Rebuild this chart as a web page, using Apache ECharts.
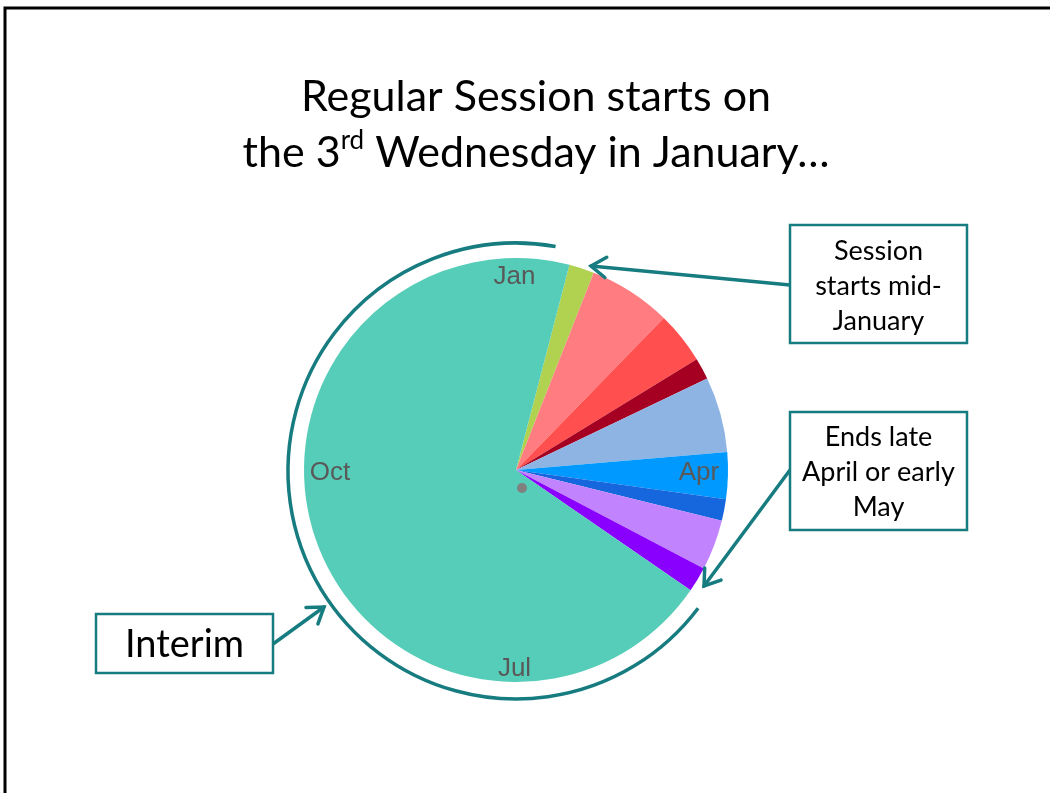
<!DOCTYPE html>
<html><head><meta charset="utf-8">
<script src="https://cdn.jsdelivr.net/npm/echarts@6/dist/echarts.min.js"></script>
<style>html,body{margin:0;padding:0;background:#fff}#c{width:1050px;height:793px}</style>
</head><body><div id="c"></div>
<script>
// Calendar year split into legislative periods (days)
const periods = ['Session opens','Early session','Mid session','Deadline week','Late session','Final weeks','Last week','Wrap-up','Sine die','Interim'];
const periodDays = [7, 23, 14.5, 6, 21, 13, 6, 14, 7, 253.5];
const palette = ['#B0D250','#FF7C80','#FF4F4F','#A50021','#8EB4E3','#0099FF','#1666DD','#C283FF','#8A00FF','#56CDB8'];
const monthLabels = ['Jan','Apr','Jul','Oct'];

const teal = '#177C80';
const CX = 516, CY = 470, R = 212;
const FONT = 'Lato, "Open Sans", sans-serif';

function arrow(x1, y1, x2, y2) {
  const a = Math.atan2(y2 - y1, x2 - x1), L = 18, h = 0.6;
  const p1 = [x2 - L * Math.cos(a - h), y2 - L * Math.sin(a - h)];
  const p2 = [x2 - L * Math.cos(a + h), y2 - L * Math.sin(a + h)];
  return [
    {type:'line', z:100, shape:{x1, y1, x2, y2}, style:{stroke:teal, lineWidth:3.5, lineCap:'round'}},
    {type:'polyline', z:100, shape:{points:[p1, [x2, y2], p2]}, style:{stroke:teal, lineWidth:3.5, fill:null, lineCap:'round', lineJoin:'miter'}}
  ];
}
function box(x, y, w, h, text, size, lh, dy) {
  return [
    {type:'rect', z:100, shape:{x, y, width:w, height:h}, style:{stroke:teal, lineWidth:2.5, fill:'#fff'}},
    {type:'text', z:101, style:{x:x + w/2, y:y + h/2 + dy, text, align:'center', verticalAlign:'middle', font: size + 'px ' + FONT, lineHeight: lh, fill:'#000'}}
  ];
}
const deg = Math.PI / 180;

// month label rings: vertical months (Jan/Jul) and horizontal months (Apr/Oct)
function monthRing(keep, inner) {
  return {
    type:'pie', silent:true, center:[CX - 1.5, CY + 3], radius:[inner, R], startAngle:135, clockwise:true, z:3,
    itemStyle:{color:'rgba(0,0,0,0)', borderWidth:0},
    label:{show:true, position:'inside', formatter:'{b}', rotate:0, color:'#595959', fontSize:26, fontFamily:'"Liberation Sans", Arial, sans-serif'},
    labelLine:{show:false}, emphasis:{disabled:true},
    data: monthLabels.map((m, i) => ({name: keep.includes(i) ? m : '', value:1}))
  };
}

const chart = echarts.init(document.getElementById('c'), null, {renderer:'canvas'});
chart.setOption({
  animation:false,
  backgroundColor:'#fff',
  series:[
    {
      type:'pie', silent:true, center:[CX, CY], radius:R, startAngle:75.4, clockwise:true,
      color: palette,
      label:{show:false}, labelLine:{show:false}, emphasis:{disabled:true},
      itemStyle:{borderWidth:0},
      data: periods.map((n, i) => ({name:n, value:periodDays[i]}))
    },
    monthRing([0, 2], 174),
    monthRing([1, 3], 151)
  ],
  graphic:[
    {type:'rect', z:100, shape:{x:5, y:8, width:1200, height:1000}, style:{stroke:'#000', lineWidth:3, fill:null}},
    {type:'text', z:100, style:{x:536, y:97, text:'Regular Session starts on', align:'center', verticalAlign:'middle', font:'43px ' + FONT, fill:'#000'}},
    {type:'text', z:100, style:{x:536, y:153, align:'center', verticalAlign:'middle',
      text:'{a|the 3}{s|rd}{a| Wednesday in January…}',
      rich:{a:{fontSize:43, fontFamily:FONT, lineHeight:50, fill:'#000'}, s:{fontSize:26, fontFamily:FONT, lineHeight:26, verticalAlign:'top', fill:'#000'}}}},
    {type:'arc', z:100, shape:{cx:CX, cy:CY + 1, r:228, startAngle:37*deg, endAngle:280*deg, clockwise:true}, style:{stroke:teal, lineWidth:3.5, fill:null}},
    {type:'circle', z:100, shape:{cx:522, cy:488, r:5}, style:{fill:'#808080'}},
    ...arrow(790, 285, 591, 266),
    ...arrow(790, 470, 704, 586),
    ...arrow(273, 644, 324, 607),
    ...box(790, 225, 177, 118, 'Session\nstarts mid-\nJanuary', 27, 35, 2),
    ...box(790, 412, 177, 118, 'Ends late\nApril or early\nMay', 27, 35, 1),
    ...box(96, 614, 177, 59, 'Interim', 38, 44, 1)
  ]
});
</script></body></html>
